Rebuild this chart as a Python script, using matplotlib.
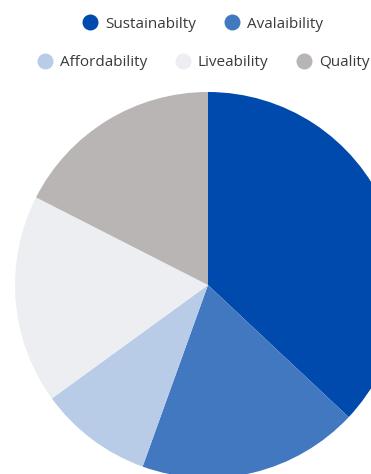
import matplotlib.pyplot as plt
from matplotlib.lines import Line2D

labels = ["Sustainabilty", "Avalaibility", "Affordability", "Liveability", "Quality"]
values = [37, 18.5, 9.5, 17.5, 17.5]
colors = ["#004aad", "#4178c0", "#b8cce8", "#eceef2", "#b8b5b4"]

W, H = 371, 474
fig = plt.figure(figsize=(W / 100, H / 100), dpi=100)
ax = fig.add_axes([0, 0, 1, 1])

# pie centre and radius in pixels, the pie runs off the right and bottom edges
cx, cy, r = 208, 285, 193
ax.pie(values, colors=colors, startangle=90, counterclock=False,
       wedgeprops=dict(linewidth=0))
ax.set_aspect("auto")
ax.set_xlim(-cx / r, (W - cx) / r)
ax.set_ylim(-(H - cy) / r, cy / r)
ax.axis("off")

handles = [Line2D([], [], marker="o", linestyle="none", markersize=11.5,
                  markerfacecolor=c, markeredgewidth=0) for c in colors]

opts = dict(frameon=False, handletextpad=0.48, columnspacing=1.85,
            borderaxespad=0, borderpad=0, handlelength=1.0,
            prop={"family": "Open Sans", "size": 11})
leg1 = fig.legend(handles[:2], labels[:2], loc="center", ncol=2,
                  bbox_to_anchor=(203 / W, 1 - 24 / H), **opts)
leg2 = fig.legend(handles[2:], labels[2:], loc="center", ncol=3,
                  bbox_to_anchor=(203.5 / W, 1 - 63 / H), **opts)
for leg in (leg1, leg2):
    for txt in leg.get_texts():
        txt.set_color("#3a3a3a")

fig.savefig("out.png", dpi=100)
